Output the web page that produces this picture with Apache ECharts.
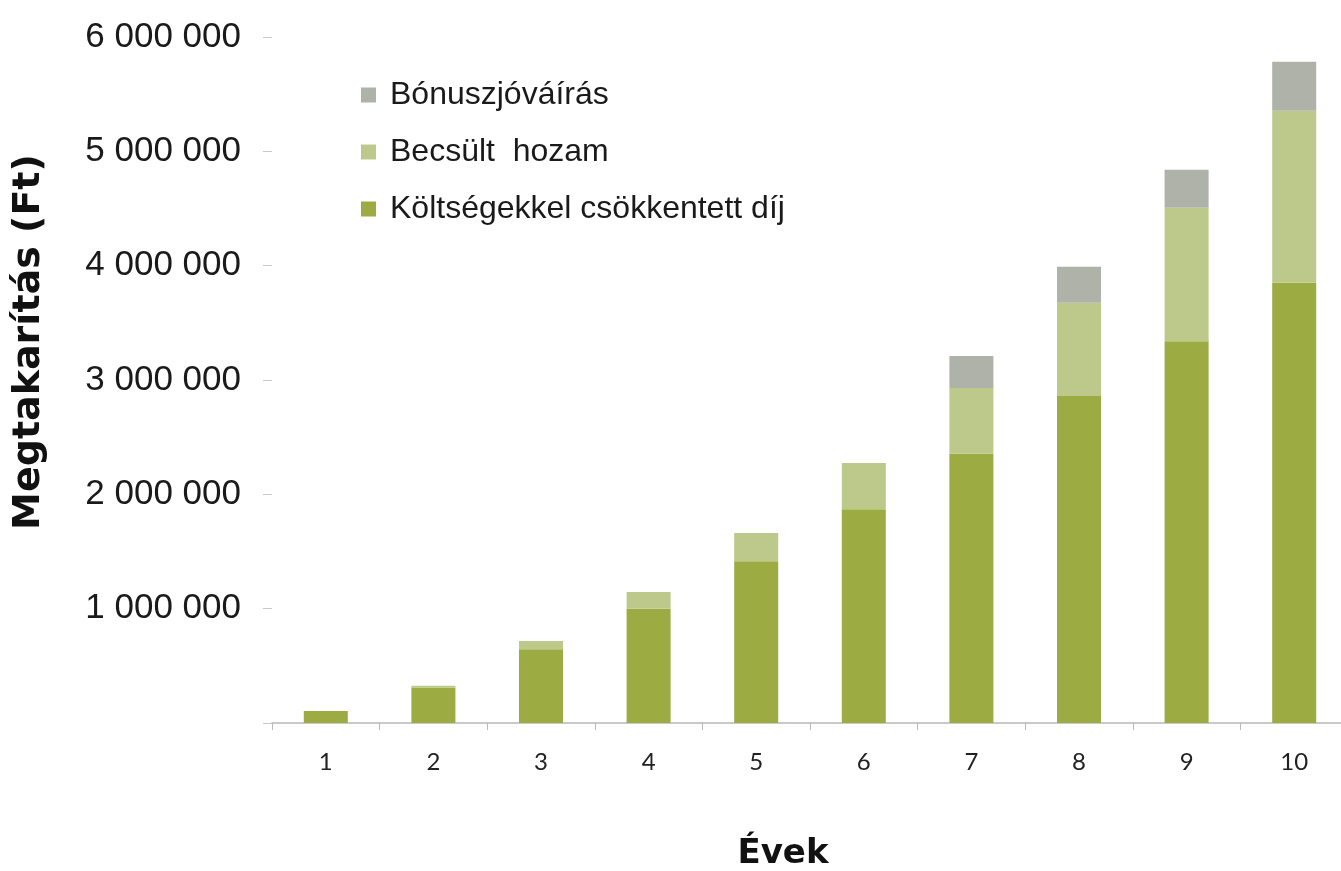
<!DOCTYPE html>
<html>
<head>
<meta charset="utf-8">
<script src="https://cdn.jsdelivr.net/npm/echarts@6/dist/echarts.min.js"></script>
<style>
html,body{margin:0;padding:0;background:#fff;overflow:hidden;}
#chart{width:1352px;height:871px;}
</style>
</head>
<body>
<div id="chart"></div>
<script>
const categories = ['1','2','3','4','5','6','7','8','9','10'];
const dij = [105000, 310000, 645000, 1000000, 1415000, 1870000, 2355000, 2860000, 3340000, 3850000];
const hozam = [0, 15000, 72000, 145000, 247000, 405000, 576000, 815000, 1166000, 1504000];
const bonusz = [0, 0, 0, 0, 0, 0, 280000, 315000, 332000, 429000];
const seriesNames = ['Költségekkel csökkentett díj', 'Becsült  hozam', 'Bónuszjóváírás'];
const legendOrder = ['Bónuszjóváírás', 'Becsült  hozam', 'Költségekkel csökkentett díj'];
const yTitle = 'Megtakarítás (Ft)';
const xTitle = 'Évek';

const colors = ['#9cab42', '#bcc98a', '#aeb2a9'];

function fmt(v) {
  if (v === 0) return '';
  return String(v).replace(/\B(?=(\d{3})+(?!\d))/g, ' ');
}

const chart = echarts.init(document.getElementById('chart'));
const values = [dij, hozam, bonusz];
chart.setOption({
  animation: false,
  backgroundColor: '#fff',
  grid: { left: 272, top: 37, width: 1076, height: 686, containLabel: false },
  legend: {
    orient: 'vertical',
    left: 356,
    top: 74,
    itemWidth: 15,
    itemHeight: 15,
    itemGap: 25,
    icon: 'rect',
    data: legendOrder,
    textStyle: { fontFamily: 'Liberation Sans, Arial, sans-serif', fontSize: 32, lineHeight: 32, color: '#1a1a1a', padding: [0, 0, 0, 9] }
  },
  xAxis: {
    type: 'category',
    data: categories,
    axisLine: { lineStyle: { color: '#b8b8bc', width: 1.5 } },
    axisTick: { show: true, length: 7, lineStyle: { color: '#b8b8bc' } },
    axisLabel: { margin: 27, fontFamily: 'Lato, Open Sans, sans-serif', fontSize: 24, color: '#222' }
  },
  yAxis: {
    type: 'value',
    min: 0,
    max: 6000000,
    interval: 1000000,
    axisLine: { show: false },
    axisTick: { show: true, length: 9, inside: false, lineStyle: { color: '#c8c8c8' } },
    splitLine: { show: false },
    axisLabel: { margin: 31, formatter: fmt, fontFamily: 'Liberation Sans, Arial, sans-serif', fontSize: 35, color: '#1a1a1a' }
  },
  graphic: [
    {
      type: 'text',
      x: 29, y: 342,
      rotation: Math.PI / 2,
      style: { text: yTitle, fontFamily: 'DejaVu Sans, sans-serif', fontWeight: 'bold', fontSize: 38, fill: '#111', align: 'center', verticalAlign: 'middle' }
    },
    {
      type: 'text',
      x: 783, y: 854,
      style: { text: xTitle, fontFamily: 'DejaVu Sans, sans-serif', fontWeight: 'bold', fontSize: 34, fill: '#111', align: 'center', verticalAlign: 'middle' }
    }
  ],
  series: seriesNames.map((n, i) => ({
    name: n,
    type: 'bar',
    stack: 'total',
    barWidth: 44,
    itemStyle: { color: colors[i] },
    data: values[i]
  }))
});
</script>
</body>
</html>
